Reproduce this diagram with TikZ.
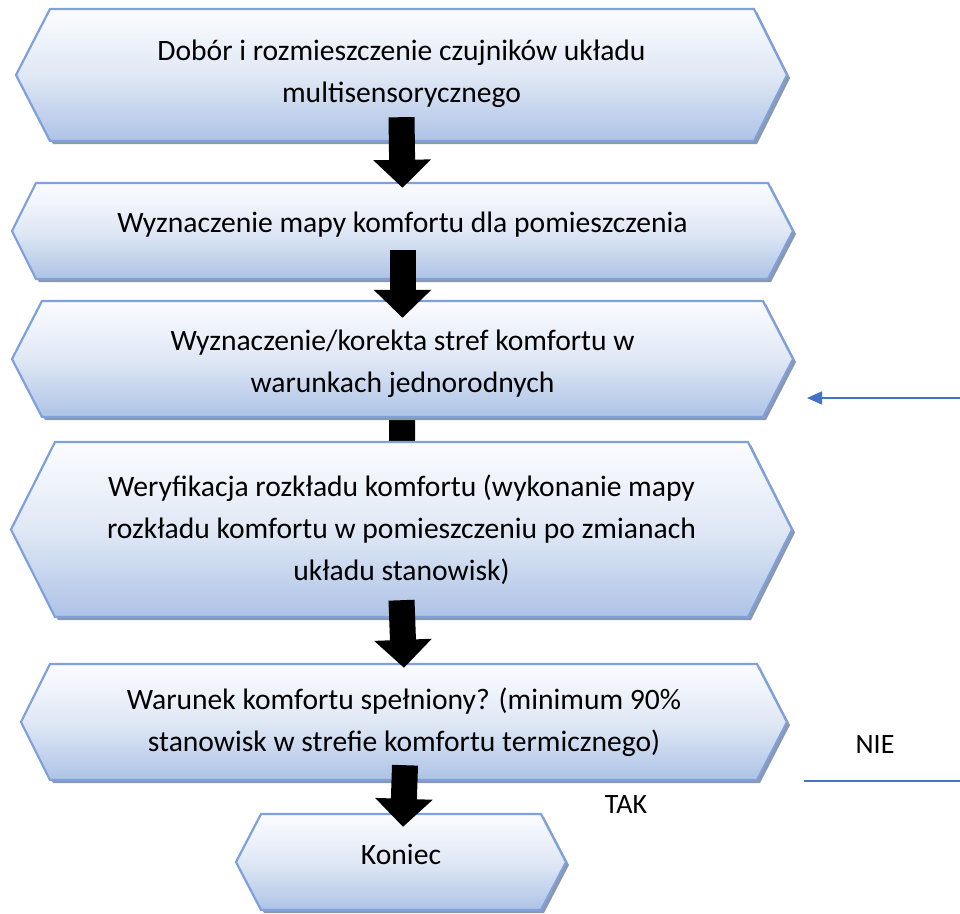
\documentclass[tikz,border=0pt]{standalone}
\usepackage{fontspec}
\setmainfont{Carlito}
\usetikzlibrary{arrows.meta,backgrounds}

\definecolor{boxtop}{RGB}{251,252,255}
\definecolor{boxmid}{RGB}{224,232,245}
\definecolor{boxbot}{RGB}{173,195,230}
\definecolor{boxline}{RGB}{126,160,220}
\definecolor{boxshadow}{RGB}{140,152,172}
\definecolor{flowblue}{RGB}{68,114,196}

\tikzset{
  hexfill/.style={top color=boxtop, bottom color=boxbot, middle color=boxmid},
  hexline/.style={draw=boxline, line width=2.2, line join=miter},
  hexshadow/.style={fill=boxshadow},
  steplabel/.style={inner sep=0, align=center, font=\fontsize{29.6}{42}\selectfont},
  bigarrow/.style={black, line width=26, -{Triangle[length=28pt,width=56pt]}},
  thinarrow/.style={draw=flowblue, line width=1.6, -{Triangle[length=15pt,width=13pt]}},
  thinline/.style={draw=flowblue, line width=1.2},
  answer/.style={inner sep=0, font=\fontsize{28}{34}\selectfont}
}

% hexagonal step box:
% #1 name, #2 left tip x, #3 top-left x, #4 top-right x, #5 right tip x,
% #6 top y, #7 bottom y, #8 upward text offset, #9 text
\newcommand{\hexbox}[9]{%
  \pgfmathsetmacro\hmid{(#6+#7)/2}%
  \fill[hexshadow] (#3+3,#6+3) -- (#4+3,#6+3) -- (#5+3,\hmid+3) -- (#4+3,#7+3)
    -- (#3+3,#7+3) -- (#2+3,\hmid+3) -- cycle;
  \shade[hexfill] (#3,#6) -- (#4,#6) -- (#5,\hmid) -- (#4,#7) -- (#3,#7) -- (#2,\hmid) -- cycle;
  \draw[hexline] (#3,#6) -- (#4,#6) -- (#5,\hmid) -- (#4,#7) -- (#3,#7) -- (#2,\hmid) -- cycle;
  \node[steplabel, minimum width=#5-#2, minimum height=#7-#6] (#1)
    at ({(#2+#5)/2},\hmid) {};
  \node[steplabel, yshift=#8] at (#1.center) {#9};
}

\begin{document}
\begin{tikzpicture}[x=1pt,y=-1pt]
  \useasboundingbox (0,0) rectangle (960,913);

  \hexbox{b1}{16}{50}{754}{787}{9}{141}{1}{Dobór i rozmieszczenie czujników układu\\multisensorycznego}
  \hexbox{b2}{12}{36}{768}{793}{183}{279}{6}{Wyznaczenie mapy komfortu dla pomieszczenia}
  \hexbox{b3}{12}{42}{763}{793}{301}{417}{-5}{Wyznaczenie/korekta stref komfortu w\\warunkach jednorodnych}
  \hexbox{b4}{11}{55}{748}{792}{442}{617}{0}{Weryfikacja rozkładu komfortu (wykonanie mapy\\rozkładu komfortu w pomieszczeniu po zmianach\\układu stanowisk)}
  \hexbox{b5}{21}{50}{757}{787}{664}{780}{0}{Warunek komfortu spełniony? (minimum 90\%\\stanowisk w strefie komfortu termicznego)}
  \hexbox{b6}{236}{261}{541}{566}{814}{910}{8}{Koniec}

  % flow arrows between the steps
  \draw[bigarrow] ([yshift=24]b1.south) -- ([yshift=-5]b2.north);
  \draw[bigarrow] ([yshift=29]b2.south) -- ([yshift=-17]b3.north);
  \begin{scope}[on background layer]
    \draw[bigarrow] ([yshift=20]b3.south) -- ([yshift=-40]b4.north);
  \end{scope}
  \draw[bigarrow] ([yshift=17]b4.south) -- ([yshift=-4]b5.north);
  \draw[bigarrow] ([xshift=1,yshift=15]b5.south) -- ([xshift=2,yshift=-13]b6.north);

  % return branch
  \coordinate (backstart) at (960,398);
  \coordinate (backend) at (807,398);
  \draw[thinarrow] (backstart) -- (backend);
  \coordinate (nostart) at (804,781);
  \coordinate (noend) at (960,781);
  \draw[thinline] (nostart) -- (noend);

  \node[answer] (nie) at (875,745) {NIE};
  \node[answer] (tak) at (626,805) {TAK};
\end{tikzpicture}
\end{document}
